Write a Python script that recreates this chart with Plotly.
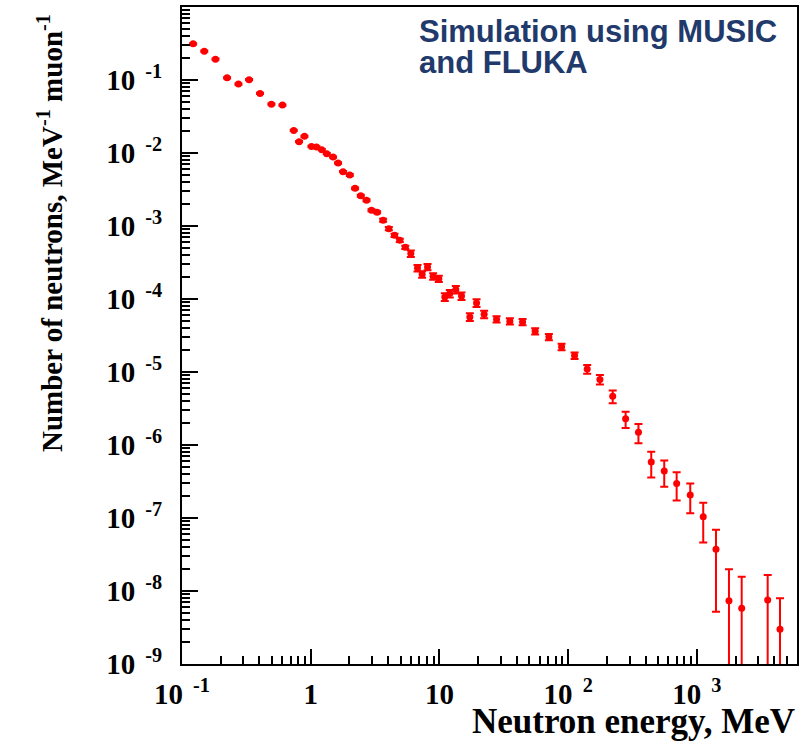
import plotly.graph_objects as go

# Neutron energy (MeV)
energy = [0.122, 0.149, 0.182, 0.224, 0.2745, 0.332, 0.404, 0.495, 0.603, 0.738,
          0.812, 0.894, 1.013, 1.108, 1.219, 1.333, 1.492, 1.632, 1.784, 2.012,
          2.212, 2.449, 2.713, 2.966, 3.28, 3.651, 4.045, 4.477, 4.922, 5.43,
          5.995, 6.757, 7.338, 8.083, 8.933, 9.89, 11.01, 12.04, 13.41, 14.85,
          17.23, 19.43, 22.25, 27.79, 35.26, 44.25, 55.43, 70.86, 88.94, 112.2,
          140.6, 176.5, 221.9, 279.6, 351.7, 442.2, 557.9, 696.6, 888.5, 1121,
          1408, 1776, 2230, 3550, 4425]

# Number of neutrons per MeV per muon
neutrons = [0.313, 0.248, 0.193, 0.107, 0.0878, 0.101, 0.0655, 0.0467, 0.0453, 0.0204,
            0.0143, 0.0169, 0.0123, 0.0121, 0.0111, 0.0098, 0.0088, 0.0073, 0.00555, 0.0050,
            0.00328, 0.0026, 0.00225, 0.00164, 0.00154, 0.0012, 0.00092, 0.000745, 0.000637, 0.000511,
            0.000419, 0.000266, 0.000218, 0.000274, 0.000205, 0.00019, 0.0001066, 0.0001187, 0.0001346, 0.00011,
            5.68e-5, 8.83e-5, 6.18e-5, 5.28e-5, 4.96e-5, 4.85e-5, 3.62e-5, 3.02e-5, 2.21e-5, 1.68e-5,
            1.10e-5, 7.92e-6, 4.67e-6, 2.28e-6, 1.50e-6, 5.83e-7, 4.39e-7, 2.98e-7, 2.06e-7, 1.04e-7,
            3.72e-8, 7.36e-9, 5.79e-9, 7.52e-9, 2.99e-9]

# Statistical errors
errors = [0.0063, 0.005, 0.0039, 0.0021, 0.0018, 0.002, 0.0013, 0.0009, 0.0009, 0.0004,
          0.0003, 0.0003, 0.00025, 0.00024, 0.00022, 0.0002, 0.00018, 0.00015, 0.00011, 0.00015,
          0.0001, 0.00008, 0.00007, 0.00005, 0.00005, 0.00006, 0.000046, 0.000037, 0.000032, 0.000026,
          4.2e-5, 2.7e-5, 2.2e-5, 2.7e-5, 2.1e-5, 1.9e-5, 1.3e-5, 1.4e-5, 1.6e-5, 1.3e-5,
          6.8e-6, 1.06e-5, 7.4e-6, 5.3e-6, 5.0e-6, 4.9e-6, 3.6e-6, 3.0e-6, 2.2e-6, 1.7e-6,
          1.5e-6, 1.2e-6, 9.3e-7, 5.7e-7, 4.4e-7, 2.23e-7, 1.72e-7, 1.25e-7, 9.0e-8, 5.8e-8,
          3.2e-8, 1.25e-8, 9.9e-9, 9.0e-9, 4.95e-9]

x_tickvals = [0.1, 1, 10, 100, 1000]
x_ticktext = ["10<sup>  -1</sup>", "1", "10", "10<sup>  2</sup>", "10<sup>  3</sup>"]
y_tickvals = [1e-1, 1e-2, 1e-3, 1e-4, 1e-5, 1e-6, 1e-7, 1e-8, 1e-9]
y_ticktext = ["10<sup>  -%d</sup>" % k for k in range(1, 10)]

serif = "Liberation Serif, Times New Roman, serif"
sans = "Liberation Sans, Arial, sans-serif"

fig = go.Figure()
fig.add_trace(go.Scatter(
    x=energy, y=neutrons, mode="markers",
    marker=dict(color="#ff0000", size=7, symbol="circle"),
    error_y=dict(type="data", array=errors, visible=True, color="#ff0000",
                 thickness=2, width=4),
    showlegend=False,
))

axis_common = dict(
    type="log", showgrid=False, zeroline=False, automargin=False,
    showline=True, linecolor="black", linewidth=2, mirror=True,
    ticks="inside", tickcolor="black", tickwidth=1.5,
    tickfont=dict(family=serif, size=29, color="black", weight="bold"),
)

fig.update_xaxes(**axis_common, range=[-1, 3.778], tickvals=x_tickvals,
                 ticktext=x_ticktext, ticklen=15, ticklabelstandoff=3,
                 minor=dict(ticks="inside", ticklen=8, dtick="D1",
                            tickcolor="black", tickwidth=1.5))
fig.update_yaxes(**axis_common, range=[-9, 0], tickvals=y_tickvals,
                 ticktext=y_ticktext, ticklen=16, ticklabelstandoff=12,
                 minor=dict(ticks="inside", ticklen=8, dtick="D1",
                            tickcolor="black", tickwidth=1.5))

fig.add_annotation(text="Neutron energy, MeV", xref="paper", yref="paper",
                   x=1.0, y=-0.088, xanchor="right", yanchor="middle", showarrow=False,
                   font=dict(family=serif, size=35, color="black", weight="bold"))
fig.add_annotation(text="Number of neutrons, MeV<sup>-1</sup> muon<sup>-1</sup>",
                   xref="paper", yref="paper", x=-0.215, y=0.992, textangle=-90,
                   xanchor="center", yanchor="top", showarrow=False,
                   font=dict(family=serif, size=29, color="black", weight="bold"))
fig.add_annotation(text="Simulation using MUSIC", xref="paper", yref="paper",
                   x=0.382, y=0.993, xanchor="left", yanchor="top", showarrow=False,
                   font=dict(family=sans, size=31, color="#213a6b", weight="bold"))
fig.add_annotation(text="and FLUKA", xref="paper", yref="paper",
                   x=0.382, y=0.945, xanchor="left", yanchor="top", showarrow=False,
                   font=dict(family=sans, size=31, color="#213a6b", weight="bold"))

fig.update_layout(
    width=810, height=745,
    margin=dict(l=182, r=13, t=7, b=81),
    paper_bgcolor="white", plot_bgcolor="white",
)

fig.write_html("out.html", config={"displayModeBar": False},
               post_script="document.body.style.margin='0px';document.body.style.padding='0px';")
